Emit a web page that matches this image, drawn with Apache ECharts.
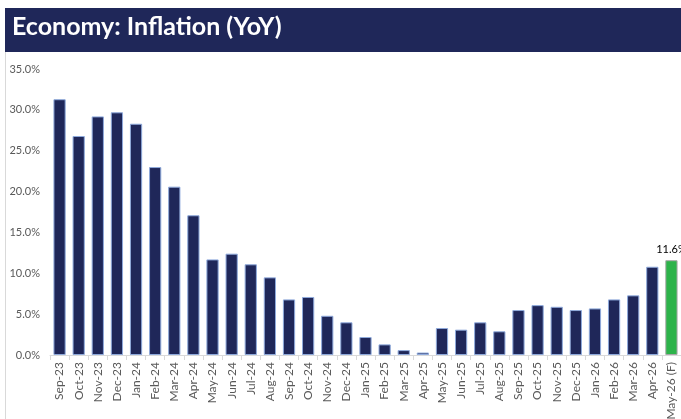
<!DOCTYPE html>
<html>
<head>
<meta charset="utf-8">
<script src="https://cdn.jsdelivr.net/npm/echarts@6/dist/echarts.min.js"></script>
<style>
  html, body { margin: 0; padding: 0; background: #fff; }
  #main { width: 681px; height: 419px; }
</style>
</head>
<body>
<div id="main"></div>
<script>
var months = ['Sep-23', 'Oct-23', 'Nov-23', 'Dec-23', 'Jan-24', 'Feb-24', 'Mar-24', 'Apr-24', 'May-24', 'Jun-24', 'Jul-24',
    'Aug-24', 'Sep-24', 'Oct-24', 'Nov-24', 'Dec-24', 'Jan-25', 'Feb-25', 'Mar-25', 'Apr-25', 'May-25', 'Jun-25',
    'Jul-25', 'Aug-25', 'Sep-25', 'Oct-25', 'Nov-25', 'Dec-25', 'Jan-26', 'Feb-26', 'Mar-26', 'Apr-26', 'May-26 (F)'];
var inflation = [31.3, 26.8, 29.2, 29.7, 28.3, 23.0, 20.6, 17.1, 11.7, 12.4, 11.1,
    9.5, 6.8, 7.1, 4.8, 4.0, 2.2, 1.3, 0.6, 0.3, 3.3, 3.1,
    4.0, 2.9, 5.5, 6.1, 5.9, 5.5, 5.7, 6.8, 7.3, 10.8, 11.6];
var forecastIndex = 32;

var chartDom = document.getElementById('main');
var myChart = echarts.init(chartDom);
var option;

var barData = inflation.map(function (v, i) {
    if (i === forecastIndex) {
        return {
            value: v,
            itemStyle: { color: '#2db34a', borderColor: '#a6a6a6' },
            label: { show: true }
        };
    }
    return v;
});

option = {
    animation: false,
    graphic: [
        {
            type: 'rect',
            shape: { x: 5, y: 8, width: 676, height: 44 },
            style: { fill: '#1f2759' }
        },
        {
            type: 'text',
            left: 12,
            top: 14,
            style: {
                text: 'Economy: Inflation (YoY)',
                fill: '#ffffff',
                font: 'bold 25px Lato'
            }
        },
        {
            type: 'line',
            shape: { x1: 5.5, y1: 52, x2: 5.5, y2: 419 },
            style: { stroke: '#d9d9d9', lineWidth: 1 }
        }
    ],
    grid: {
        left: 50,
        right: 0,
        top: 69,
        bottom: 64,
        outerBoundsMode: 'none'
    },
    xAxis: {
        type: 'category',
        data: months,
        axisLine: { lineStyle: { color: '#d9d9d9' } },
        axisTick: { show: true, lineStyle: { color: '#d9d9d9' }, length: 5 },
        axisLabel: {
            rotate: 90,
            interval: 0,
            color: '#595959',
            fontFamily: 'Lato',
            fontSize: 12,
            margin: 7
        }
    },
    yAxis: {
        type: 'value',
        min: 0,
        max: 35,
        interval: 5,
        splitLine: { show: false },
        axisLine: { show: false },
        axisTick: { show: false },
        axisLabel: {
            color: '#595959',
            fontFamily: 'Lato',
            fontSize: 11,
            margin: 10,
            formatter: function (v) { return v.toFixed(1) + '%'; }
        }
    },
    series: [
        {
            type: 'bar',
            data: barData,
            barCategoryGap: '36%',
            itemStyle: {
                color: '#1f2759',
                borderColor: '#8faadc',
                borderWidth: 1
            },
            label: {
                show: false,
                position: 'top',
                color: '#000000',
                fontFamily: 'Lato',
                fontSize: 11,
                formatter: function (p) { return p.value.toFixed(1) + '%'; }
            }
        }
    ]
};

option && myChart.setOption(option);
</script>
</body>
</html>
